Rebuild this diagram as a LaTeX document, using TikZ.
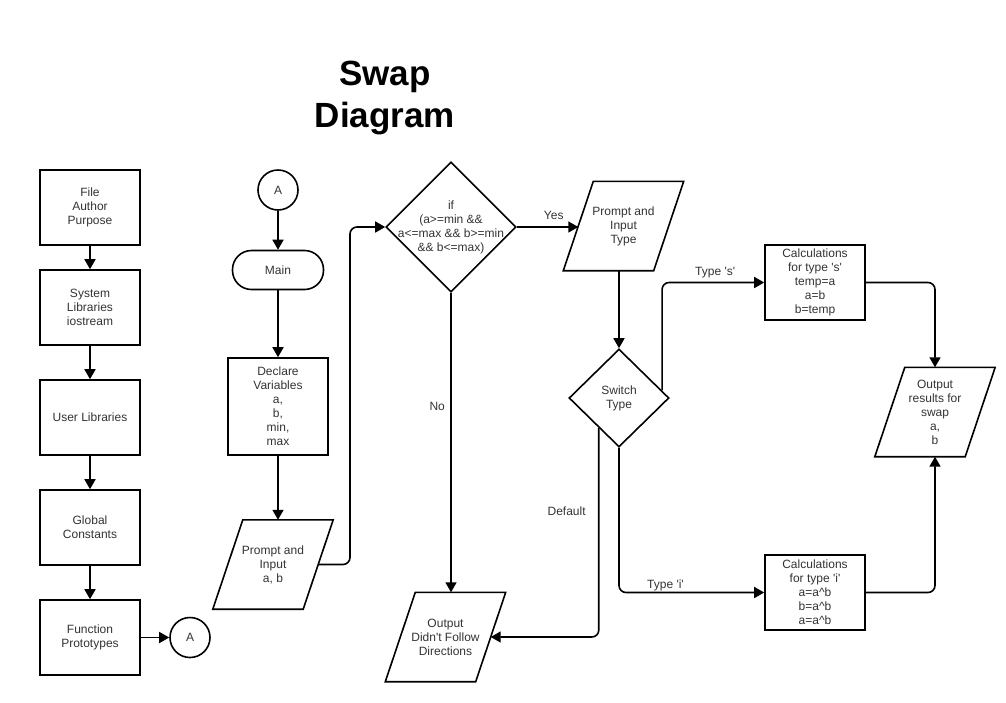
\documentclass[tikz,border=0pt]{standalone}
\usepackage{fontspec}
\setmainfont{Liberation Sans}
\usetikzlibrary{shapes.geometric,arrows.meta,positioning}

\tikzset{
    proc/.style={rectangle, draw, line width=1.6pt, minimum width=100pt, minimum height=75pt, inner sep=2pt, align=center},
    io/.style={rectangle, minimum width=90pt, minimum height=89pt, inner sep=0pt, align=center,
        append after command={\pgfextra{\draw[line width=1.6pt, line join=miter]
            ([xshift=15pt]\tikzlastnode.north west) -- ([xshift=15pt]\tikzlastnode.north east)
            -- ([xshift=-15pt]\tikzlastnode.south east) -- ([xshift=-15pt]\tikzlastnode.south west) -- cycle;}}},
    decision/.style={diamond, draw, line width=1.6pt, inner sep=0pt, align=center},
    onpage/.style={circle, draw, line width=1.6pt, minimum size=40pt, inner sep=0pt},
    terminal/.style={rectangle, draw, rounded corners=19pt, line width=1.6pt, minimum width=91pt, minimum height=39pt},
    flow/.style={->, line width=1.6pt, rounded corners=7pt}
}

\begin{document}
\begin{tikzpicture}[x=1pt, y=-1pt, node distance=110pt, >={Triangle[length=10pt,width=11pt]},
    font=\fontsize{12pt}{14pt}\selectfont, text=black!80]
    \useasboundingbox (0,0) rectangle (1006,702);

    \node (title) [font=\fontsize{35pt}{42pt}\selectfont\bfseries, text=black, align=center] at (385,98) {Swap\\Diagram};

    % left column
    \node (file) [proc] at (90,207.5) {File\\Author\\Purpose};
    \node (sys) [proc, below of=file, node distance=100pt] {System\\Libraries\\iostream};
    \node (user) [proc, below of=sys] {User Libraries};
    \node (glob) [proc, below of=user] {Global\\Constants};
    \node (func) [proc, below of=glob] {Function\\Prototypes};
    \node (endA) [onpage, right of=func, node distance=100pt] {A};

    % main
    \node (startA) [onpage] at (278,190) {A};
    \node (main) [terminal] at (278,270) {Main};
    \node (decl) [proc, minimum height=97pt] at (278,406.5) {Declare\\Variables\\a,\\b,\\min,\\max};
    \node (inab) [io] at (273,564.5) {Prompt and\\Input\\a, b};
    \coordinate (jog) at (350,400);

    \node (check) [decision, minimum width=130pt, minimum height=130pt, inner sep=-8pt] at (451,227)
        {if\\(a>=min \&\&\\a<=max \&\& b>=min\\\&\& b<=max)};
    \node (intype) [io] at (623.5,226) {Prompt and\\Input\\Type};
    \node (switch) [decision, minimum width=100pt, minimum height=98pt] at (619,398) {Switch\\Type};
    \node (fail) [io] at (445.5,637) {Output\\Didn\textquotesingle t Follow\\Directions};

    \node (calcs) [proc] at (815,282.5) {Calculations\\for type \textquotesingle s\textquotesingle\\temp=a\\a=b\\b=temp};
    \node (calci) [proc] at (815,592.5) {Calculations\\for type \textquotesingle i\textquotesingle\\a=a\textasciicircum b\\b=a\textasciicircum b\\a=a\textasciicircum b};
    \node (result) [io] at (935,412) {Output\\results for\\swap\\a,\\b};

    \draw [flow] (file) -- (sys);
    \draw [flow] (sys) -- (user);
    \draw [flow] (user) -- (glob);
    \draw [flow] (glob) -- (func);
    \draw [flow] (func) -- (endA);

    \draw [flow] (startA) -- (main);
    \draw [flow] (main) -- (decl);
    \draw [flow] (decl) -- (decl |- inab.north);
    \draw [flow] (inab.east) -- (inab.east -| jog) |- (check);

    \draw [flow] (check) -- node[above=3pt, pos=0.6] {Yes} (check -| intype.west);
    \draw [flow] (check) -- node[left=2pt, pos=0.38] {No} (check |- fail.north);
    \draw [flow] (intype.south -| switch) -- (switch);

    \draw [flow] (switch.10) |- node[above, pos=0.76] {Type \textquotesingle s\textquotesingle} (calcs);
    \draw [flow] (switch) |- node[above, pos=0.66, inner sep=1pt] {Type \textquotesingle i\textquotesingle} (calci);
    \draw [flow] (switch.236) |- node[left=9pt, pos=0.2] {Default} (fail);
    \draw [flow] (calcs) -| (result);
    \draw [flow] (calci) -| (result);
\end{tikzpicture}
\end{document}
